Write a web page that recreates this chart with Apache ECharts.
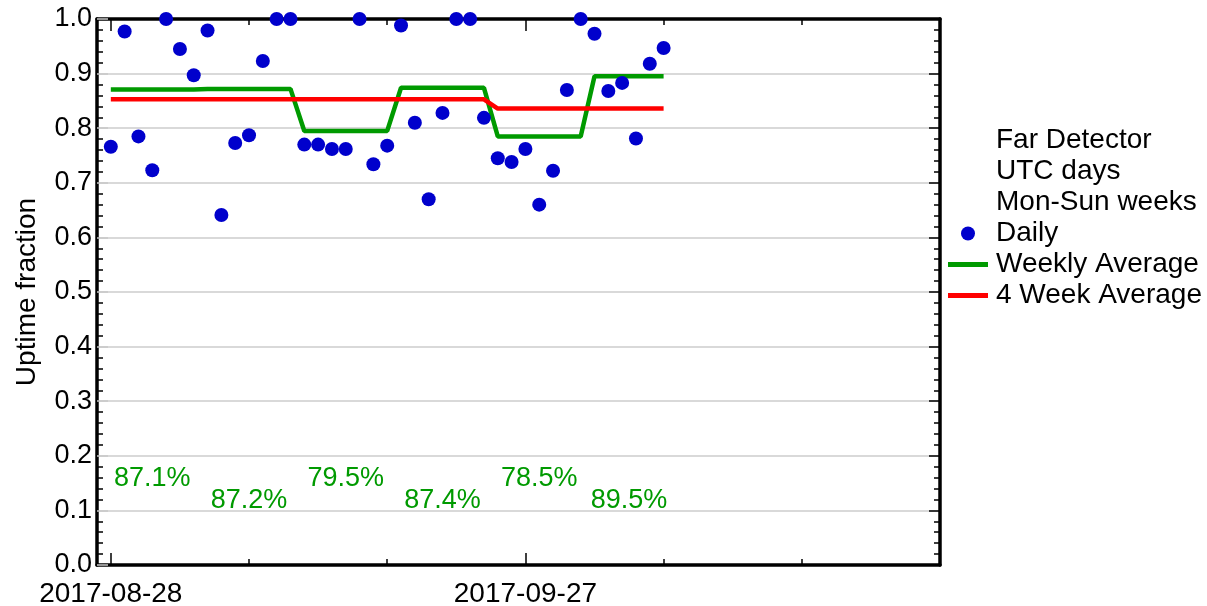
<!DOCTYPE html>
<html>
<head>
<meta charset="utf-8">
<script src="https://cdn.jsdelivr.net/npm/echarts@6/dist/echarts.min.js"></script>
<style>
html,body{margin:0;padding:0;background:#fff;}
#chart{width:1207px;height:606px;}
</style>
</head>
<body>
<div id="chart"></div>
<script>
// ---- data ----
// day offsets counted from 2017-08-28 (a Monday)
const xLabelDays = [0, 30];
const xLabelText = ['2017-08-28', '2017-09-27'];
const daily = [
  0.766, 0.977, 0.785, 0.723, 1.000, 0.945, 0.897,
  0.979, 0.641, 0.773, 0.787, 0.923, 1.000, 1.000,
  0.770, 0.770, 0.762, 0.762, 1.000, 0.734, 0.768,
  0.988, 0.810, 0.670, 0.828, 1.000, 1.000, 0.819,
  0.745, 0.738, 0.762, 0.660, 0.722, 0.870, 1.000,
  0.973, 0.868, 0.883, 0.781, 0.918, 0.947
];
const weeklyAvg = [0.871, 0.872, 0.795, 0.874, 0.785, 0.895];
const weeklyLabels = ['87.1%', '87.2%', '79.5%', '87.4%', '78.5%', '89.5%'];
const fourWeekAvg = [0.853, 0.836];   // weeks 1-4, weeks 5-6
const yTickLabels = ['0.0','0.1','0.2','0.3','0.4','0.5','0.6','0.7','0.8','0.9','1.0'];

// ---- derived series ----
const dailyData = daily.map((v, i) => [i, v]);
const weeklyData = daily.map((v, i) => [i, weeklyAvg[Math.floor(i / 7)]]);
const fourWeekData = daily.map((v, i) => [i, fourWeekAvg[Math.floor(i / 28)]]);
const labelData = weeklyAvg.map((v, w) => {
  const start = w * 7;
  const end = Math.min(start + 6, daily.length - 1);
  return { value: [(start + end) / 2, w % 2 ? 0.12 : 0.16], label: { formatter: weeklyLabels[w] } };
});

const FONT = 'Liberation Sans';
const GREEN = '#009a00';
const RED = '#ff0000';
const BLUE = '#0000cc';

function xAxisCfg(pos, tickVals, tickLen, showLine, showLabel) {
  return {
    type: 'value', position: pos, min: -1, max: 60,
    axisLine: { show: showLine, onZero: false, lineStyle: { color: '#000', width: 3.5 } },
    axisTick: { show: true, inside: true, length: tickLen, customValues: tickVals, lineStyle: { color: '#000', width: 1.5 } },
    axisLabel: {
      show: showLabel, customValues: xLabelDays, margin: 15,
      color: '#000', fontSize: 28, fontFamily: FONT,
      formatter: v => { const k = xLabelDays.indexOf(Math.round(v)); return k >= 0 ? xLabelText[k] : ''; }
    },
    splitLine: { show: false }
  };
}
function yAxisCfg(pos, showLabel, majorColor) {
  return {
    type: 'value', position: pos, min: 0, max: 1, interval: 0.1,
    name: showLabel ? 'Uptime fraction' : '', nameLocation: 'middle', nameGap: 56,
    nameTextStyle: { color: '#000', fontSize: 28, fontFamily: FONT },
    axisLine: { show: true, onZero: false, lineStyle: { color: '#000', width: 3.5 } },
    axisTick: { show: true, inside: true, length: 11, lineStyle: { color: majorColor, width: 1.5 } },
    minorTick: { show: true, splitNumber: 5, length: 6, lineStyle: { color: '#000', width: 1.5 } },
    axisLabel: {
      show: showLabel, margin: 5, color: '#000', fontSize: 27, fontFamily: FONT,
      formatter: v => yTickLabels[Math.round(v * 10)]
    },
    splitLine: { show: showLabel, lineStyle: { color: '#cccccc', width: 1.5 } }
  };
}

const chart = echarts.init(document.getElementById('chart'), null, { renderer: 'canvas' });
chart.setOption({
  backgroundColor: '#fff',
  animation: false,
  textStyle: { fontFamily: FONT },
  grid: { left: 97, right: 267, top: 19, bottom: 41, containLabel: false, outerBoundsMode: 'none' },
  xAxis: [
    xAxisCfg('bottom', [0, 30, 60], 12, true, true),
    xAxisCfg('bottom', [10, 20, 40, 50], 6, false, false),
    xAxisCfg('top', [0, 30, 60], 12, true, false),
    xAxisCfg('top', [10, 20, 40, 50], 6, false, false)
  ],
  yAxis: [
    yAxisCfg('left', true, '#c8c8c8'),
    yAxisCfg('right', false, '#000')
  ],
  legend: {
    orient: 'vertical', left: 943, top: 120, itemGap: 0,
    itemWidth: 40, itemHeight: 14,
    textStyle: { color: '#000', fontSize: 28, fontFamily: FONT, lineHeight: 31, padding: [0, 0, 0, 3] },
    selectedMode: false,
    data: [
      { name: 'Far Detector', icon: 'rect', itemStyle: { opacity: 0 } },
      { name: 'UTC days', icon: 'rect', itemStyle: { opacity: 0 } },
      { name: 'Mon-Sun weeks', icon: 'rect', itemStyle: { opacity: 0 } },
      { name: 'Daily', icon: 'circle', itemStyle: { opacity: 1 } },
      { name: 'Weekly Average', icon: 'path://M0 0H40V5H0Z', itemStyle: { borderWidth: 0 } },
      { name: '4 Week Average', icon: 'path://M0 0H40V5H0Z', itemStyle: { borderWidth: 0 } }
    ]
  },
  series: [
    { name: 'Far Detector', type: 'line', data: [] },
    { name: 'UTC days', type: 'line', data: [] },
    { name: 'Mon-Sun weeks', type: 'line', data: [] },
    {
      name: 'Daily', type: 'scatter', data: dailyData, symbol: 'circle', symbolSize: 14,
      itemStyle: { color: BLUE, opacity: 1 }, clip: false, z: 5
    },
    {
      name: 'Weekly Average', type: 'line', data: weeklyData, showSymbol: false, symbol: 'none',
      color: GREEN, itemStyle: { color: GREEN }, lineStyle: { color: GREEN, width: 4.5 }, z: 3
    },
    {
      name: '4 Week Average', type: 'line', data: fourWeekData, showSymbol: false, symbol: 'none',
      color: RED, itemStyle: { color: RED }, lineStyle: { color: RED, width: 4.5 }, z: 4
    },
    {
      name: 'weekLabels', type: 'scatter', data: labelData, symbolSize: 1,
      itemStyle: { color: 'rgba(0,0,0,0)', opacity: 1 }, silent: true, z: 6,
      label: { show: true, position: 'inside', offset: [0, 1], color: GREEN, fontSize: 27, fontFamily: FONT }
    }
  ]
});
</script>
</body>
</html>
